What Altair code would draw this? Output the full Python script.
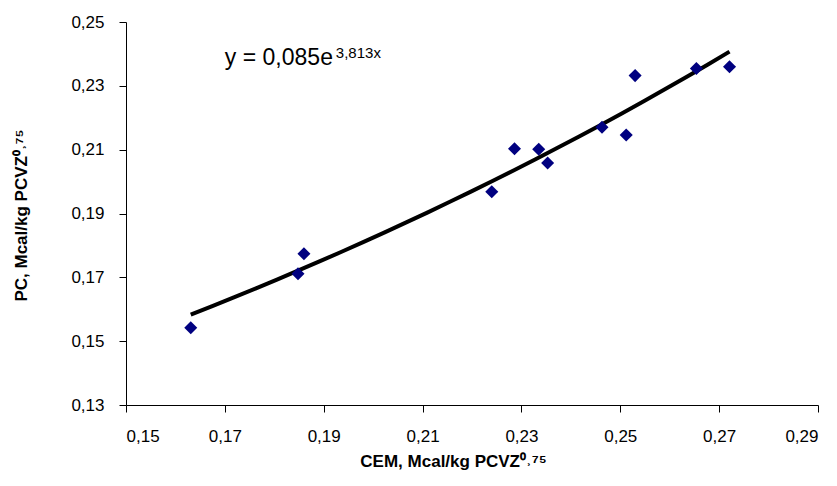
import altair as alt
import pandas as pd

# Data
cem = [0.1631, 0.1848, 0.1860, 0.2240, 0.2286, 0.2335, 0.2353, 0.2463, 0.2512, 0.2530, 0.2654, 0.2721]
pc = [0.1542, 0.1711, 0.1774, 0.1968, 0.2103, 0.2101, 0.2058, 0.2170, 0.2146, 0.2332, 0.2354, 0.2360]

x_ticks = [0.15, 0.17, 0.19, 0.21, 0.23, 0.25, 0.27, 0.29]
y_ticks = [0.13, 0.15, 0.17, 0.19, 0.21, 0.23, 0.25]

eq_main = ["y = 0,085e"]
eq_sup = ["3,813x"]
eq_x = [0.17]
eq_y = [0.2387]

df = pd.DataFrame({"x": cem, "y": pc})
eq_df = pd.DataFrame({"main": eq_main, "sup": eq_sup, "x": eq_x, "y": eq_y})

W, H = 692, 383

common_axis = dict(
    format=".2f",
    grid=False,
    domainColor="#000000",
    tickColor="#000000",
    tickSize=7,
    labelFont="Liberation Sans",
    labelFontSize=17,
    labelColor="#000000",
    titleFont="Liberation Sans",
    titleFontSize=17,
    titleFontWeight="bold",
    titleColor="#000000",
    titleAlign="center",
    titleBaseline="middle",
)

x_enc = alt.X(
    "x:Q",
    scale=alt.Scale(domain=[0.15, 0.29], nice=False, zero=False),
    axis=alt.Axis(
        values=x_ticks,
        title="CEM, Mcal/kg PCVZ⁰˒⁷⁵",
        labelPadding=16,
        titleX=327,
        titleY=56,
        **common_axis,
    ),
)
y_enc = alt.Y(
    "y:Q",
    scale=alt.Scale(domain=[0.13, 0.25], nice=False, zero=False),
    axis=alt.Axis(
        values=y_ticks,
        title="PC, Mcal/kg PCVZ⁰˒⁷⁵",
        labelPadding=15,
        titleX=-105,
        titleY=193,
        **common_axis,
    ),
)

base = alt.Chart(df)

trend = base.transform_regression("x", "y", method="exp").mark_line(
    color="#000000", strokeWidth=4
).encode(x=x_enc, y=y_enc)

points = base.mark_point(
    shape="diamond", filled=True, color="#000080", size=170, opacity=1
).encode(x=x_enc, y=y_enc)

eq1 = alt.Chart(eq_df).mark_text(
    align="left", baseline="middle", font="Liberation Sans", fontSize=23, color="#000000"
).encode(x="x:Q", y="y:Q", text="main:N")

eq2 = alt.Chart(eq_df).mark_text(
    align="left", baseline="middle", font="Liberation Sans", fontSize=15, color="#000000",
    dx=111, dy=-5
).encode(x="x:Q", y="y:Q", text="sup:N")

chart = alt.layer(trend, points, eq1, eq2).properties(
    width=W,
    height=H,
    autosize=alt.AutoSizeParams(type="none"),
    padding={"left": 118, "top": 14, "right": 10, "bottom": 80},
).configure(
    locale={"number": {"decimal": ",", "thousands": ".", "grouping": [3], "currency": ["", " €"]}}
).configure_view(stroke=None)

chart.save("out.html", embed_options={"renderer": "svg", "actions": False})
